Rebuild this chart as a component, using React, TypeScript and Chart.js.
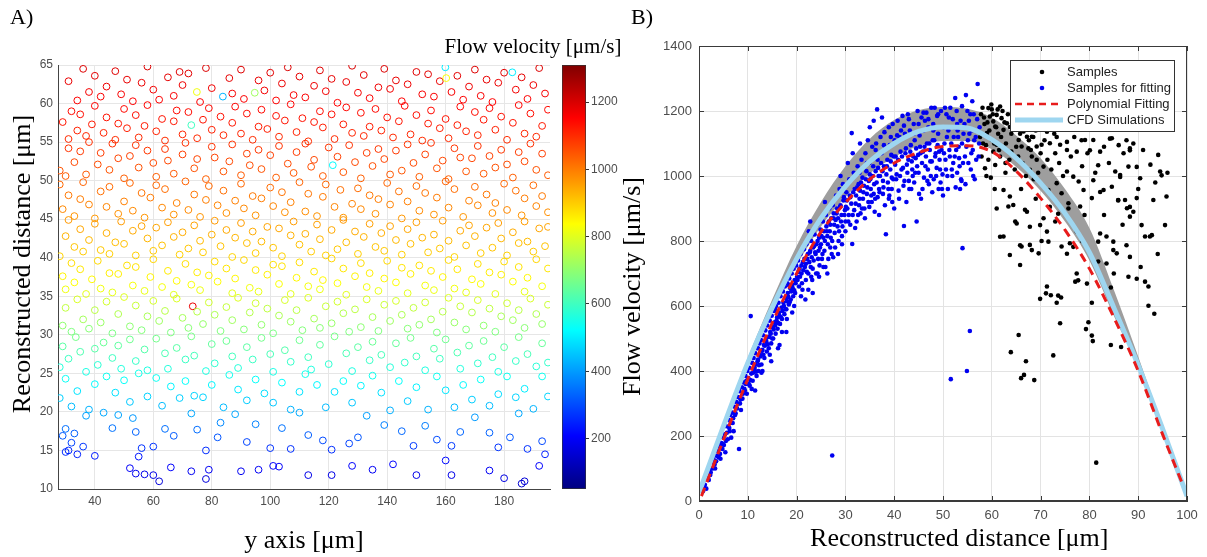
import React, { useEffect, useRef } from 'react';
import { Chart, registerables } from 'chart.js';
Chart.register(...registerables);

const SANS = '"Liberation Sans", Arial, sans-serif';
const SERIF = '"Liberation Serif", "Times New Roman", serif';

// ---------- Panel A: circles [y axis µm, reconstructed distance µm, flow velocity µm/s]
const aXTicks = [40, 60, 80, 100, 120, 140, 160, 180];
const aYTicks = [10, 15, 20, 25, 30, 35, 40, 45, 50, 55, 60, 65];
const cbTicks = [200, 400, 600, 800, 1000, 1200];
const cbMin = 50;
const cbMax = 1310;

const flowPoints: [number, number, number][] = [
[30,14.8,262],[31,15.0,255],[34,14.5,248],[40,14.3,240],[52,12.7,200],[54,12.0,185],[55,14.2,235],[57,11.9,180],[60,11.8,178],[62,11.0,160],[66,12.8,205],[73,12.3,190],[78,11.3,165],[79,12.5,195],[90,12.3,190],[96,12.5,195],[101,13.0,205],[103,12.9,200],[113,11.8,180],[121,11.8,178],[128,13.0,205],[135,12.5,195],[142,13.2,210],[150,11.8,180],[160,13.7,220],[162,11.8,180],[175,12.4,195],[180,11.4,170],[186,10.7,150],[187,11.0,158],[192,13.0,205],[194,14.5,245],
[29,16.9,318],[30,17.8,345],[32,16.0,290],[33,17.2,325],[36,15.5,275],[37,19.5,405],[43,19.9,415],[46,17.9,348],[48,19.6,410],[53,19.2,395],[54,17.4,330],[56,15.3,268],[60,15.5,272],[64,17.8,345],[67,16.9,318],[73,19.8,415],[75,17.7,342],[78,15.0,262],[82,16.7,312],[83,18.6,375],[88,19.7,412],[92,16.1,292],[95,18.4,368],[100,15.3,268],[104,17.9,350],[107,15.2,266],[110,19.9,418],[113,17.0,322],[118,16.3,298],[121,15.1,264],[127,15.9,288],[130,16.7,312],[133,19.5,405],[139,18.3,365],[145,17.5,335],[149,15.6,278],[153,18.2,362],[157,16.4,300],[162,15.6,278],[165,17.4,332],[170,19.3,398],[175,17.3,328],[178,15.4,270],[182,16.7,312],[185,19.8,415],[188,15.2,266],[193,16.2,295],
[28,21.8,465],[30,24.3,535],[32,20.7,440],[34,22.7,490],[38,20.3,428],[40,23.6,518],[44,24.6,540],[47,22.5,485],[50,24.1,530],[52,21.3,455],[55,25.0,548],[58,22.0,468],[61,24.4,538],[63,20.8,440],[66,23.3,510],[69,21.8,465],[71,24.0,528],[74,22.1,470],[77,21.9,468],[80,23.5,515],[84,20.6,438],[86,24.8,545],[89,22.9,495],[92,21.5,460],[95,24.2,530],[98,22.4,482],[101,21.2,452],[104,23.8,522],[107,20.3,428],[110,22.6,488],[112,24.9,546],[116,23.5,515],[119,20.6,438],[122,22.6,488],[125,24.0,528],[128,21.2,452],[131,23.4,512],[135,24.7,542],[138,22.5,485],[141,20.2,425],[144,24.0,528],[147,21.4,458],[150,23.2,508],[154,20.3,428],[157,24.6,540],[160,22.8,492],[163,20.6,438],[166,23.5,515],[169,21.6,462],[172,24.2,532],[175,20.8,440],[178,22.3,478],[181,24.6,540],[184,21.9,468],[187,23.0,500],[190,20.4,430],[193,24.6,540],[195,22.0,470],
[28,25.8,570],[29,28.5,635],[31,26.9,598],[33.5,29.7,668],[35,27.8,620],[37,25.2,555],[40,28.2,630],[41,26.1,575],[43,29.0,652],[46,27.0,600],[48,28.6,640],[49,25.6,565],[52,29.4,660],[54,26.6,590],[57,28.1,628],[58,25.4,560],[61,29.5,664],[64,27.6,615],[65,25.6,565],[68,28.3,632],[71,26.8,595],[73,29.8,670],[74,27.3,608],[78,25.3,558],[80,28.8,645],[81,26.3,580],[85,29.2,655],[87,27.2,605],[89,25.7,568],[92,28.4,635],[94,26.8,595],[97,29.6,665],[100,27.5,612],[101,25.2,555],[105,28.0,625],[107,26.5,588],[110,29.3,658],[113,27.1,602],[114,25.5,562],[117,28.7,642],[120,26.2,578],[122,29.8,670],[126,27.6,615],[128,25.3,558],[130,28.4,635],[134,26.7,592],[135,29.1,654],[138,27.4,610],[141,25.8,570],[143,28.9,648],[146,26.4,585],[148,29.6,665],[150,27.2,605],[153,25.4,560],[156,28.2,630],[158,26.9,598],[160,29.4,660],[164,27.7,618],[165,25.6,565],[168,28.6,640],[171,26.3,582],[173,29.2,656],[176,27.1,602],[178,25.2,555],[180,28.4,635],[184,26.6,590],[185,29.7,668],[188,27.5,612],[191,25.9,572],[193,28.9,648],[195,26.4,585],
[29,31.2,700],[30,33.5,760],[32,30.4,680],[34,34.6,790],[36,32.0,725],[38,30.8,690],[40,33.2,752],[42,31.6,712],[44,34.3,782],[46,30.2,675],[48,32.7,740],[50,34.9,798],[52,31.1,698],[54,33.8,770],[56,30.6,685],[58,32.4,732],[60,34.4,785],[62,31.8,718],[64,33.1,750],[66,30.3,678],[68,34.7,792],[70,32.2,728],[72,30.9,692],[73.5,33.7,1180],[75,33.0,748],[77,31.4,706],[79,34.2,780],[81,32.6,738],[83,30.5,682],[85,33.6,765],[87,31.9,720],[89,34.8,795],[91,30.7,688],[93,32.9,745],[95,34.1,778],[97,31.3,702],[99,33.4,758],[101,30.2,675],[103,32.5,735],[105,34.5,788],[107,31.7,715],[109,33.2,752],[111,30.6,685],[113,34.8,795],[115,32.1,726],[117,30.9,692],[119,33.7,768],[121,31.5,708],[123,34.3,782],[125,32.8,742],[127,30.4,680],[129,33.3,755],[131,31.0,695],[133,34.6,790],[135,32.3,730],[137,30.5,682],[139,33.9,772],[141,31.8,718],[143,34.4,785],[145,32.6,738],[147,30.8,690],[149,33.5,760],[151,31.3,702],[153,34.2,780],[155,32.0,725],[157,30.3,678],[159,33.0,748],[161,34.8,795],[163,31.6,712],[165,33.7,768],[167,30.7,688],[169,32.9,745],[171,34.5,788],[173,31.2,700],[175,33.4,758],[177,30.4,680],[179,32.4,732],[181,34.1,778],[183,31.9,720],[185,33.2,752],[187,30.9,692],[189,34.7,792],[191,32.7,740],[193,31.4,706],[195,33.9,772],
[29,37.6,852],[30,35.9,818],[32,39.3,880],[33,36.8,838],[35,38.5,866],[37,35.3,805],[39,37.2,845],[41,39.6,885],[42,36.0,820],[45,38.0,858],[46,35.5,808],[48,37.9,856],[51,39.0,874],[53,36.4,828],[54,38.8,872],[57,35.7,812],[59,37.5,850],[60,39.8,888],[63,36.2,825],[65,38.3,863],[67,35.2,802],[68,37.0,842],[71,39.2,878],[73,36.5,830],[75,38.1,860],[76,35.8,815],[79,37.7,852],[81,39.5,882],[82,36.9,840],[85,38.6,868],[87,35.4,806],[88,37.3,847],[91,39.7,886],[93,36.1,822],[95,38.4,865],[96,35.6,810],[99,37.8,855],[101,39.1,876],[103,36.6,832],[104,38.9,873],[107,35.3,804],[109,37.4,848],[110,39.4,881],[113,36.3,826],[115,38.2,862],[117,35.9,818],[118,37.1,844],[121,39.9,890],[123,36.7,835],[125,38.6,868],[126,35.2,802],[129,37.6,852],[131,39.3,880],[133,36.2,825],[134,38.0,858],[137,35.7,812],[139,37.3,847],[140,39.6,885],[143,36.8,838],[145,38.7,870],[147,35.4,806],[148,37.9,856],[151,39.0,874],[153,36.4,828],[155,38.3,863],[156,35.8,815],[159,37.5,850],[161,39.7,886],[163,36.0,820],[164,38.5,866],[167,35.5,808],[169,37.2,845],[171,39.2,878],[172,36.6,832],[175,38.1,860],[177,35.3,805],[179,37.8,855],[180,39.5,882],[183,36.9,840],[185,38.8,872],[187,35.6,810],[188,37.4,848],[191,39.8,888],[193,36.3,826],[195,38.6,868],
[28,40.2,893],[30,42.8,932],[31,44.9,963],[33,41.4,910],[35,43.7,946],[36,40.8,902],[38,42.3,925],[40,44.4,956],[42,41.0,905],[44,43.2,938],[45,40.5,898],[47,42.0,920],[49,44.7,960],[50,41.8,917],[53,43.5,943],[54,40.3,895],[56,44.1,952],[58,42.5,928],[60,40.9,904],[61,43.9,948],[63,41.6,914],[65,44.6,959],[67,42.7,931],[69,40.4,896],[70,43.3,940],[72,41.2,908],[74,44.2,953],[76,42.2,923],[77,40.7,901],[80,43.0,935],[81,44.8,962],[83,41.5,912],[85,43.6,944],[87,40.1,892],[88,42.6,929],[90,44.5,958],[92,41.9,918],[94,43.4,941],[95,40.6,899],[97,42.1,922],[99,44.0,950],[101,41.3,910],[103,43.8,947],[104,40.2,893],[107,42.9,934],[108,44.7,960],[110,41.7,915],[112,43.1,937],[114,40.8,902],[116,44.3,955],[117,42.4,926],[119,40.3,895],[121,43.6,944],[123,41.1,906],[125,44.9,963],[126,42.0,920],[129,43.4,941],[130,40.5,898],[132,42.7,931],[134,44.4,956],[136,41.4,910],[138,43.2,938],[139,40.9,904],[141,44.1,952],[143,42.3,925],[145,40.4,896],[147,43.7,946],[148,41.8,917],[150,44.6,959],[152,42.6,929],[154,40.7,901],[156,43.0,935],[158,41.2,908],[159,44.8,962],[161,42.2,923],[163,40.1,892],[165,43.5,943],[167,41.6,914],[168,44.2,953],[170,42.8,932],[172,40.6,899],[174,43.9,948],[176,41.3,910],[178,44.5,958],[179,42.5,928],[181,40.3,895],[183,43.3,940],[185,41.9,918],[187,44.7,960],[188,42.1,922],[190,40.8,902],[192,43.8,947],[194,41.5,912],[195,44.0,950],
[28,49.5,1025],[29,46.3,985],[31,48.1,1006],[33,45.4,970],[35,47.6,998],[36,49.8,1030],[38,46.9,992],[40,45.1,966],[42,48.6,1015],[44,46.6,988],[45,49.2,1022],[48,45.7,974],[50,47.3,996],[52,49.7,1028],[53,46.1,982],[56,48.4,1010],[57,45.2,968],[59,47.8,1002],[61,49.4,1024],[63,46.5,986],[64,48.9,1018],[67,45.6,972],[68,47.1,994],[71,49.9,1032],[72,46.2,983],[74,48.2,1008],[76,45.3,969],[78,47.5,997],[79,49.3,1023],[82,46.8,990],[84,48.7,1016],[85,45.8,975],[88,47.4,996],[90,49.6,1027],[91,46.4,985],[94,48.0,1004],[95,45.5,971],[97,47.7,1000],[100,49.1,1020],[101,46.7,989],[104,48.5,1012],[105,45.9,976],[107,47.2,995],[110,49.8,1030],[112,46.0,980],[113,48.3,1009],[116,45.4,970],[118,47.9,1003],[119,49.5,1025],[122,46.6,988],[124,48.8,1017],[125,45.2,968],[128,47.0,993],[130,49.0,1019],[131,46.3,984],[134,48.1,1006],[136,45.7,974],[137,47.6,998],[140,49.7,1028],[141,46.9,992],[144,48.6,1015],[145,45.1,966],[147,47.3,996],[150,49.3,1023],[151,46.1,982],[153,48.4,1010],[156,45.6,972],[157,47.8,1002],[160,49.9,1032],[161,46.5,986],[163,48.9,1018],[166,45.3,969],[168,47.4,996],[170,49.2,1022],[171,46.8,990],[174,48.2,1008],[176,45.8,975],[177,47.1,994],[180,49.6,1027],[181,46.2,983],[184,48.7,1016],[186,45.5,971],[187,47.7,1000],[190,49.4,1024],[191,46.7,989],[193,48.0,1004],[195,45.9,976],
[28,51.3,1048],[30,50.6,1040],[31,54.2,1088],[33,52.4,1063],[35,53.8,1082],[37,50.8,1042],[38,55.0,1095],[41,52.1,1060],[42,53.6,1078],[45,51.4,1050],[46,54.8,1093],[48,52.9,1068],[50,50.3,1036],[52,53.2,1074],[54,54.6,1090],[55,51.7,1054],[58,53.9,1083],[60,52.3,1062],[61,50.5,1038],[64,54.1,1086],[65,52.6,1065],[67,50.9,1044],[70,53.4,1076],[71,54.9,1094],[74,51.6,1052],[75,52.8,1068],[78,50.2,1035],[80,54.4,1089],[81,53.0,1071],[84,51.2,1047],[86,52.5,1064],[87,54.7,1091],[90,50.7,1041],[92,53.5,1077],[93,52.0,1058],[96,54.0,1085],[97,51.5,1051],[100,53.3,1075],[102,50.4,1037],[103,54.5,1090],[106,52.2,1061],[108,51.0,1045],[109,53.7,1080],[112,54.8,1092],[114,51.8,1055],[115,52.7,1066],[118,50.6,1040],[120,54.3,1087],[121.4,52.0,520],[123,53.1,1073],[125,51.1,1046],[127,54.6,1090],[129,52.4,1063],[131,50.3,1036],[133,53.6,1078],[135,51.9,1056],[137,54.1,1086],[139,52.8,1068],[141,50.8,1042],[143,53.9,1083],[145,51.3,1048],[147,54.7,1091],[149,52.3,1062],[151,50.5,1038],[153,53.4,1076],[155,54.9,1094],[157,51.6,1052],[159,52.6,1065],[161,50.2,1035],[163,54.2,1088],[165,53.0,1071],[167,51.2,1047],[169,52.9,1068],[171,54.5,1090],[173,50.9,1044],[175,53.2,1074],[177,51.7,1054],[179,54.0,1085],[181,52.1,1060],[183,50.4,1037],[185,53.7,1080],[187,52.5,1064],[189,54.8,1093],[191,51.4,1050],[193,53.5,1077],[195,50.7,1041],
[29,57.6,1126],[31,55.4,1100],[32,59.0,1140],[34,56.5,1112],[35,58.6,1136],[37,55.8,1104],[39,57.3,1122],[40,59.7,1147],[43,56.2,1108],[44,58.2,1132],[47,55.3,1098],[48,57.4,1124],[50,59.3,1143],[51,56.8,1116],[54,58.5,1135],[55,55.6,1102],[57,57.1,1120],[58,59.8,1148],[61,56.4,1110],[63,58.0,1130],[64,55.2,1097],[67,57.7,1127],[68,59.1,1141],[70,56.0,1106],[72,58.9,1139],[73,57.2,600],[75,55.5,1101],[77,57.9,1129],[79,59.4,1144],[80,56.6,1114],[83,58.3,1133],[84,55.9,1105],[87,57.5,1125],[88,59.6,1146],[90,56.1,1107],[92,58.7,1137],[94,55.3,1098],[96,57.0,1119],[97,59.2,1142],[99,56.7,1115],[102,58.4,1134],[103,55.7,1103],[105,57.8,1128],[107,59.9,1149],[109,56.3,1109],[111,58.1,1131],[113,55.1,1096],[115,57.6,1126],[117,59.0,1140],[118,56.9,1117],[121,58.6,1136],[122,55.4,1100],[125,57.3,1122],[126,59.5,1145],[128,56.2,1108],[131,58.8,1138],[132,55.8,1104],[134,57.0,1119],[136,59.3,1143],[138,56.5,1112],[140,58.2,1132],[142,55.6,1102],[144,57.7,1127],[146,59.7,1147],[148,56.0,1106],[150,58.5,1135],[152,55.2,1097],[154,57.4,1124],[155,59.1,1141],[158,56.8,1116],[160,58.0,1130],[161,55.5,1101],[164,57.2,1121],[165,59.6,1146],[167,56.4,1110],[170,58.9,1139],[171,55.9,1105],[173,57.9,1129],[175,59.4,1144],[177,56.6,1114],[179,58.3,1133],[181,55.3,1098],[183,57.5,1125],[185,59.8,1148],[187,56.1,1107],[189,58.7,1137],[191,55.7,1103],[193,57.1,1120],[195,59.2,1142],
[31,62.9,1180],[34,60.4,1154],[36,64.5,1195],[38,61.5,1165],[40,63.6,1186],[42,60.9,1159],[44,62.2,1172],[47,64.2,1192],[49,61.2,1162],[51,63.1,1181],[53,60.3,1153],[56,62.7,1177],[58,64.8,1198],[60,61.8,1168],[62,60.5,1155],[65,63.4,1184],[67,61.0,1160],[69,64.1,1191],[70,62.4,1174],[72,63.9,1189],[74.9,61.5,820],[76,60.2,1152],[78,64.6,1196],[80,62.0,1170],[83.8,60.9,430],[86,63.3,1183],[87,61.3,1163],[90,64.4,1194],[91,60.6,1156],[94.7,61.4,720],[96,63.0,1180],[98,61.7,1167],[100,64.0,1190],[102,60.4,1154],[104,62.6,1176],[106,64.7,1197],[108,61.1,1161],[110,63.5,1185],[112,60.8,1158],[115,62.3,1173],[117,64.3,1193],[119,61.6,1166],[121,63.2,1182],[123,60.1,1151],[126,62.8,1178],[128,64.9,1199],[130,61.4,1164],[132,63.7,1187],[134,60.7,1157],[137,62.1,1171],[139,64.5,1195],[141,61.9,1169],[143,63.0,1180],[145,60.3,1153],[147,62.5,1175],[150,64.1,1191],[152,61.2,1162],[154,63.8,1188],[156,60.9,1159],[158,62.9,1179],[159.9,64.7,500],[160.2,63.3,830],[162,61.5,1165],[164,63.6,1186],[166,60.5,1155],[168,62.2,1172],[170,64.4,1194],[172,61.0,1160],[174,63.1,1181],[176,60.2,1152],[178,62.7,1177],[180,64.0,1190],[182.8,64.05,500],[184,61.8,1168],[186,63.4,1184],[188,60.6,1156],[190,62.4,1174],[192,64.6,1196],[194,61.3,1163]
];

// ---------- Panel B
const bXTicks = [0, 10, 20, 30, 40, 50, 60, 70, 80, 90, 100];
const bYTicks = [0, 200, 400, 600, 800, 1000, 1200, 1400];
const bLegendLabels = ['Samples', 'Samples for fitting', 'Polynomial Fitting', 'CFD Simulations'];

const curveX = [0, 5, 10, 15, 20, 25, 30, 35, 40, 45, 50, 55, 60, 65, 70, 75, 80, 85, 90, 95, 100];
const cfdV = [25, 230, 425, 595, 745, 870, 968, 1045, 1100, 1137, 1151, 1148, 1112, 1055, 978, 885, 765, 595, 418, 222, 15];
const bandUpper = [28, 238, 440, 620, 785, 920, 1030, 1115, 1172, 1202, 1212, 1207, 1180, 1125, 1055, 960, 840, 650, 445, 230, 18];
const bandLower = [22, 222, 412, 580, 725, 845, 935, 1008, 1058, 1092, 1108, 1108, 1082, 1028, 955, 860, 740, 570, 410, 212, 12];

const fitX = [0.5, 5, 10, 15, 20, 25, 30, 35, 40, 45, 50, 55, 60, 65, 70, 75, 80, 85, 90, 95, 99];
const fitV = [15, 188, 375, 548, 700, 828, 918, 990, 1040, 1072, 1091, 1093, 1075, 1015, 932, 834, 715, 565, 400, 205, 55];

const fittingSamples: [number, number][] = [
[0.8,30],[1.2,50],[1.5,38],[1.7,72],[2.0,65],[2.1,95],[2.4,88],[2.6,118],[2.8,100],[3.0,128],[3.2,112],[3.4,140],[3.5,122],[3.7,155],[3.9,138],[4.1,168],[4.3,145],[4.4,130],[4.6,178],[4.8,160],[5.0,195],[5.1,172],[5.3,205],[5.4,150],[5.6,230],[5.7,210],[5.9,190],[6.0,250],[6.2,225],[6.4,265],[6.5,240],[6.6,195],[6.8,272],[7.0,255],[7.1,215],[7.3,290],[7.4,265],[7.6,305],[7.8,285],[8.0,320],[8.1,300],[8.2,160],[8.3,338],[8.5,312],[8.6,280],[8.8,350],[9.0,330],[9.1,365],[9.3,345],[9.5,385],[9.6,360],[9.8,330],[9.9,400],
[1.0,45],[2.3,80],[3.3,100],[4.0,135],[4.9,175],[5.5,185],[6.3,215],[6.9,240],[7.5,270],[8.4,300],[8.9,315],[9.4,340],[9.7,370],
[10.1,378],[10.3,410],[10.4,355],[10.6,569],[10.7,392],[10.9,425],[11.0,370],[11.2,440],[11.3,405],[11.5,455],[11.6,420],[11.8,385],[11.9,470],[12.1,435],[12.2,400],[12.4,485],[12.5,450],[12.7,495],[12.8,420],[13.0,465],[13.1,510],[13.3,480],[13.4,440],[13.6,525],[13.7,495],[13.9,460],[14.0,540],[14.2,505],[14.3,470],[14.5,555],[14.6,520],[14.8,485],[14.9,570],[15.1,535],[15.2,500],[15.4,585],[15.5,550],[15.7,515],[15.8,600],[16.0,565],[16.1,530],[16.3,610],[16.4,580],[16.6,545],[16.7,630],[16.9,595],[17.0,560],[17.2,645],[17.3,610],[17.5,575],[17.6,660],[17.8,625],[17.9,590],[18.1,670],[18.2,640],[18.4,605],[18.5,685],[18.7,655],[18.8,620],[19.0,700],[19.1,665],[19.3,630],[19.4,715],[19.6,680],[19.7,640],[19.9,725],[19.5,600],[16.5,480],[14.5,450],[12.8,395],[18.0,560],[17.0,520],
[10.2,360],[10.5,372],[10.8,345],[11.1,395],[11.4,410],[11.7,398],[12.0,430],[12.3,418],[12.6,445],[12.9,462],[13.2,450],[13.5,478],[13.8,490],[14.1,482],[14.4,505],[14.7,515],[15.0,500],[15.3,528],[15.6,540],[15.9,555],[16.2,548],[16.5,570],[16.8,565],[17.1,585],[17.4,600],[17.7,590],[18.0,615],[18.3,628],[18.6,612],[18.9,645],[19.2,655],[19.5,648],[19.8,670],[11.5,340],[13.0,400],[14.8,430],[16.2,470],[17.9,520],[19.1,580],[12.1,470],[15.6,590],[18.4,665],
[20.1,690],[20.3,740],[20.5,660],[20.6,715],[20.8,760],[21.0,700],[21.2,650],[21.3,735],[21.5,775],[21.7,720],[21.9,680],[22.0,790],[22.2,745],[22.4,700],[22.5,830],[22.7,765],[22.9,720],[23.0,800],[23.2,680],[23.4,780],[23.5,740],[23.7,820],[23.9,760],[24.0,700],[24.2,850],[24.3,800],[24.5,770],[24.7,725],[24.9,835],[25.0,790],[25.2,745],[25.4,860],[25.5,810],[25.7,770],[25.9,720],[26.0,880],[26.2,830],[26.4,790],[26.5,745],[26.7,900],[26.9,850],[27.0,810],[27.2,760],[27.3,140],[27.4,910],[27.6,870],[27.8,825],[27.9,780],[28.1,940],[28.2,885],[28.4,845],[28.6,800],[28.8,960],[28.9,905],[29.1,860],[29.3,815],[29.5,975],[29.6,925],[29.8,880],[30.0,830],[21.8,620],[24.6,690],[26.3,700],[28.5,760],[22.8,860],[25.8,920],[23.3,640],[29.0,1000],
[20.2,680],[20.4,705],[20.7,690],[21.0,725],[21.1,670],[21.4,710],[21.6,745],[21.9,730],[22.1,705],[22.3,760],[22.6,735],[22.8,770],[23.1,750],[23.3,715],[23.6,785],[23.8,765],[24.1,790],[24.4,745],[24.6,810],[24.8,780],[25.1,815],[25.3,760],[25.6,830],[25.8,800],[26.1,845],[26.3,815],[26.6,860],[26.8,830],[27.1,870],[27.3,800],[27.6,885],[27.7,850],[28.0,865],[28.3,900],[28.5,870],[28.7,830],[29.0,910],[29.2,880],[29.4,845],[29.7,935],[29.9,895],[20.9,630],[22.4,650],[24.3,700],[25.5,720],[27.5,750],[29.3,790],[23.0,690],[26.9,780],
[30.2,950],[30.4,900],[30.6,860],[30.8,990],[31.0,935],[31.3,1132],[31.4,791],[31.5,880],[31.7,1010],[31.9,960],[32.1,915],[32.3,860],[32.5,1030],[32.7,975],[32.9,930],[33.1,885],[33.3,1050],[33.5,995],[33.7,950],[33.9,900],[34.1,1070],[34.3,1015],[34.5,965],[34.7,920],[34.9,1040],[35.1,990],[35.3,940],[35.5,1090],[35.7,1030],[35.9,975],[36.1,930],[36.3,1100],[36.5,1205],[36.6,1050],[36.8,1000],[37.0,950],[37.2,1120],[37.4,1070],[37.6,1015],[37.8,965],[38.0,1135],[38.2,1085],[38.3,821],[38.5,1030],[38.7,980],[38.9,1150],[39.1,1095],[39.3,1045],[39.5,995],[39.7,1160],[39.9,1060],[32.0,840],[34.0,870],[36.0,890],[38.1,910],[33.0,1100],[35.0,1150],[37.5,1180],[39.0,940],[30.5,1040],[31.5,1070],[34.6,1110],[36.9,880],[39.6,920],[35.8,1170],
[30.1,905],[30.3,925],[30.7,880],[30.9,940],[31.2,915],[31.6,950],[31.8,895],[32.2,940],[32.4,965],[32.8,910],[33.0,955],[33.2,980],[33.6,930],[33.8,970],[34.2,990],[34.4,945],[34.8,985],[35.0,1005],[35.2,960],[35.6,1000],[35.8,945],[36.2,1015],[36.4,980],[36.7,1025],[36.9,960],[37.1,1000],[37.3,1040],[37.7,985],[37.9,1030],[38.4,1005],[38.6,1050],[38.8,960],[39.2,1020],[39.4,1065],[39.8,990],[30.0,860],[31.0,850],[32.6,880],[33.4,900],[34.9,905],[35.4,920],[36.6,935],[37.7,945],[38.9,930],[39.5,960],[32.9,1010],[34.4,1040],[36.2,1080],[37.9,1095],[39.3,1120],
[40.1,1110],[40.3,1060],[40.5,1005],[40.7,1170],[40.9,955],[41.1,1120],[41.3,1075],[41.5,1020],[41.7,1185],[41.9,970],[42.0,846],[42.2,1130],[42.4,1085],[42.6,1035],[42.8,1190],[43.0,985],[43.2,1140],[43.4,1095],[43.6,1045],[43.8,1000],[44.0,1160],[44.2,1110],[44.4,1055],[44.6,860],[44.8,1200],[45.0,1010],[45.2,1125],[45.4,1070],[45.6,1180],[45.8,960],[46.0,1140],[46.2,1090],[46.4,1030],[46.6,1195],[46.8,985],[47.0,1150],[47.2,1100],[47.4,1045],[47.6,1210],[47.8,950],[48.0,1160],[48.2,1110],[48.4,1060],[48.6,1000],[48.8,1185],[49.0,1130],[49.2,1075],[49.4,1020],[49.6,1200],[49.8,960],[40.0,900],[41.0,930],[42.5,920],[43.5,960],[45.5,930],[47.5,1000],[49.5,980],[44.3,1010],[46.3,1170],[48.3,1210],
[40.2,1035],[40.4,990],[40.8,1050],[41.2,1000],[41.6,1060],[41.8,1025],[42.1,985],[42.3,1070],[42.7,1010],[42.9,1050],[43.1,960],[43.3,1075],[43.7,1020],[43.9,1060],[44.1,980],[44.5,1085],[44.7,1030],[44.9,1065],[45.1,945],[45.3,1090],[45.7,1040],[45.9,1075],[46.1,995],[46.5,1060],[46.7,1100],[46.9,1020],[47.1,975],[47.3,1080],[47.7,1045],[47.9,1110],[48.1,990],[48.5,1070],[48.7,1025],[48.9,1095],[49.1,960],[49.3,1050],[49.7,1080],[49.9,1005],[44.0,1130],[45.0,1160],[46.0,1195],[47.0,1175],[48.0,1140],[49.0,1190],[43.0,1175],[42.0,1155],[41.4,1140],[40.6,1125],
[50.1,1150],[50.3,1100],[50.5,1050],[50.7,1190],[50.9,1000],[51.1,1140],[51.3,1080],[51.6,375],[51.8,1020],[52.0,1175],[52.2,1120],[52.4,1060],[52.6,965],[52.8,1200],[53.0,1140],[53.2,1090],[53.4,1030],[53.6,1170],[53.8,985],[54.0,778],[54.2,1130],[54.5,1060],[54.7,1249],[54.9,400],[55.1,1110],[55.3,1170],[55.5,523],[55.7,1020],[55.9,1140],[56.1,1080],[56.3,1190],[56.5,990],[56.7,1120],[57.1,1283],[57.3,1060],[57.5,1150],[50.0,940],[51.5,1210],[53.5,960],[55.0,1200],[56.0,1230],[52.5,1240],
[50.2,1070],[50.6,1020],[50.8,1120],[51.0,960],[51.4,1060],[51.7,1100],[51.9,1000],[52.1,1040],[52.3,1150],[52.7,1080],[52.9,1010],[53.1,1120],[53.3,1055],[53.7,990],[53.9,1100],[54.1,1040],[54.4,1160],[54.6,975],[54.8,1090],[55.2,1040],[55.4,1130],[55.8,1070],[56.2,1000],[56.4,1110],[56.8,1050],[57.0,1175],[57.4,1100],[50.4,1210],[51.2,1180],[52.9,1160],[53.9,1215],[55.6,1190]
];

const otherSamples: [number, number][] = [
[59.3,1209],[60.0,1205],[61.7,1214],[59.6,1183],[60.3,1168],[61.0,1188],[62.0,1178],[63.1,1162],[60.7,1152],[62.4,1142],[59.0,1132],[60.0,1111],[61.0,1096],[60.3,1075],[59.3,1050],[58.6,1024],[61.7,1060],[60.7,1034],[65.1,1157],[66.5,1137],[67.2,1121],[68.2,1121],[65.5,1111],[66.1,1091],[67.5,1085],[69.2,1091],[70.2,1096],[68.2,1060],[69.2,1050],[70.6,1029],[67.8,1019],[71.9,1101],[74.0,1096],[73.0,1070],[75.4,1080],[77.4,1075],[79.1,1111],[80.8,1111],[82.2,1075],[84.6,1116],[87.0,1070],[88.3,1085],[85.3,1014],[88.0,1029],[90.4,993],[94.1,1065],[94.5,1014],[86.3,1003],[84.6,967],[75.4,1014],[76.7,998],[77.8,983],[73.3,978],[71.6,957],[74.3,947],[75.7,916],[78.8,957],[78.1,906],[80.5,932],[82.9,957],[85.9,926],[87.3,926],[87.7,901],[88.3,875],[89.7,932],[93.1,926],[95.8,937],[90.7,849],[91.4,814],[92.4,814],[95.5,849],[62.4,957],[63.7,937],[64.4,911],[66.8,896],[63.4,906],[67.8,844],[70.6,870],[71.3,829],[62.4,814],[66.1,783],[67.8,788],[69.6,762],[71.6,798],[74.3,783],[76.0,793],[77.4,829],[81.8,798],[83.5,814],[84.9,798],[85.6,762],[65.8,726],[63.7,757],[81.8,737],[83.5,731],[71.3,660],[77.1,675],[91.4,675],[92.1,660],[88.0,690],
[94.8,1002],[92.8,818],[89.7,684],[88.3,751],[87.6,787],[84.9,772],[82.2,823],[77.4,700],[77.7,679],[79.5,669],[75.4,761],[76.7,782],[68.2,772],[65.8,787],[61.7,813],[65.1,854],[69.9,849],[67.2,890],[73.6,884],[75.7,900],[71.9,905],[85.9,925],[88.3,905],[89.0,890],[82.2,951],[80.8,987],[86.3,997],[89.7,1028],[81.8,1033],[80.1,1079],[88.3,1079],[87.6,1110],[84.2,1115],[78.4,1110],[71.3,1136],[73.3,1120],[75.4,1105],[68.5,1120],[63.7,1151],[58.2,1100],[59.8,995],[62.8,1010],[64.0,1075],[57.8,1190],[58.5,1160],[61.3,1130],
[57.6,1120],[57.9,1060],[58.1,1210],[58.4,1180],[58.8,1095],[59.1,1165],[59.5,1140],[59.9,1220],[60.2,1190],[60.5,1100],[60.9,1150],[61.2,1205],[61.5,1080],[61.9,1120],[62.2,1200],[62.6,1165],[62.9,1100],[63.3,1190],[63.6,1050],[64.0,1130],[64.3,1170],[64.7,1020],[65.0,1090],[65.4,1060],[65.8,1130],[66.3,1040],[66.8,1160],[67.0,1000],[67.6,1110],[68.0,1080],[68.6,990],[69.0,1140],[69.5,1010],[70.0,1070],[70.8,1110],[71.4,1050],[72.2,1020],[72.8,1130],[73.8,1040],[74.6,1000],[76.2,1060],[76.9,1120],[78.5,1030],[79.6,1070],[81.2,1010],[83.0,1090],[84.0,1040],[86.0,1095],[89.0,1100],[91.0,1080],[92.5,1035],[93.5,980],[96.0,1010],[90.0,960],[86.8,850],[83.0,880],[79.0,880],[73.0,860],[69.0,930],[64.8,860],[61.0,900],[62.8,1040],[58.9,1000],[60.6,960],[66.0,960],[70.2,800],[78.5,800],[85.0,700],[90.5,720],[94.0,760],
[71.1,639],[72.1,633],[69.9,622],[73.6,632],[74.2,626],[73.3,610],[80.5,610],[84.4,657],[92.1,601],[93.3,576],[74.0,547],[79.8,550],[79.3,529],[80.5,509],[80.7,492],[84.4,480],[86.5,474],[65.5,511],[63.9,458],[72.6,448],[67.0,430],[66.6,388],[66.0,378],[68.7,372],[81.4,118]
];

// ---------- helpers
function jet(t: number): string {
  const c = (x: number) => Math.max(0, Math.min(1, x));
  const r = c(1.5 - Math.abs(4 * t - 3));
  const g = c(1.5 - Math.abs(4 * t - 2));
  const b = c(1.5 - Math.abs(4 * t - 1));
  return `rgb(${Math.round(r * 255)},${Math.round(g * 255)},${Math.round(b * 255)})`;
}
const vColor = (v: number) => jet((v - cbMin) / (cbMax - cbMin));
const fixTicks = (values: number[]) => (scale: any) => {
  scale.ticks = values.map((value) => ({ value }));
};
const plain = (v: any) => String(v);

const RED = 'rgb(232,28,28)';
const CFD = 'rgb(158,214,240)';
const BLUE = '#0000f0';

const bDecor = {
  id: 'bDecor',
  afterDatasetsDraw(chart: any) {
    const { ctx, chartArea: a, scales } = chart;
    ctx.save();
    ctx.strokeStyle = '#3a3a3a';
    ctx.lineWidth = 1;
    ctx.strokeRect(Math.round(a.left) + 0.5, Math.round(a.top) + 0.5, Math.round(a.right - a.left) - 1, Math.round(a.bottom - a.top) - 1);
    const L = 5;
    ctx.beginPath();
    for (const v of bXTicks) {
      const px = Math.round(scales.x.getPixelForValue(v)) + 0.5;
      ctx.moveTo(px, a.bottom); ctx.lineTo(px, a.bottom - L);
      ctx.moveTo(px, a.top); ctx.lineTo(px, a.top + L);
    }
    for (const v of bYTicks) {
      const py = Math.round(scales.y.getPixelForValue(v)) + 0.5;
      ctx.moveTo(a.left, py); ctx.lineTo(a.left + L, py);
      ctx.moveTo(a.right, py); ctx.lineTo(a.right - L, py);
    }
    ctx.stroke();
    ctx.restore();
  },
  afterDraw(chart: any) {
    const { ctx } = chart;
    const bx = 410, by = 60, bw = 164, bh = 71;
    const rows = [72, 88, 104, 120];
    ctx.save();
    ctx.fillStyle = '#fff';
    ctx.fillRect(bx, by, bw, bh);
    ctx.strokeStyle = '#333';
    ctx.lineWidth = 1;
    ctx.strokeRect(bx + 0.5, by + 0.5, bw, bh);
    ctx.fillStyle = '#000';
    ctx.beginPath(); ctx.arc(442, rows[0], 2.3, 0, Math.PI * 2); ctx.fill();
    ctx.fillStyle = BLUE;
    ctx.beginPath(); ctx.arc(442, rows[1], 2.3, 0, Math.PI * 2); ctx.fill();
    ctx.strokeStyle = RED; ctx.lineWidth = 2.5; ctx.setLineDash([7, 5]);
    ctx.beginPath(); ctx.moveTo(415, rows[2]); ctx.lineTo(463, rows[2]); ctx.stroke();
    ctx.setLineDash([]);
    ctx.strokeStyle = CFD; ctx.lineWidth = 5;
    ctx.beginPath(); ctx.moveTo(415, rows[3]); ctx.lineTo(463, rows[3]); ctx.stroke();
    ctx.fillStyle = '#222';
    ctx.font = `13px ${SANS}`;
    ctx.textBaseline = 'middle';
    ctx.textAlign = 'left';
    bLegendLabels.forEach((t, i) => ctx.fillText(t, 467, rows[i]));
    ctx.restore();
  },
};

export default function App() {
  const aRef = useRef<HTMLCanvasElement>(null);
  const cRef = useRef<HTMLCanvasElement>(null);
  const bRef = useRef<HTMLCanvasElement>(null);

  useEffect(() => {
    const charts: Chart[] = [];
    const tickFontA = { family: SANS, size: 12 };
    const titleFont = { family: SERIF, size: 26 };

    charts.push(new Chart(aRef.current as HTMLCanvasElement, {
      type: 'scatter',
      data: {
        datasets: [{
          data: flowPoints.map((p) => ({ x: p[0], y: p[1] })),
          pointRadius: 3.4,
          pointHoverRadius: 3.4,
          pointBorderWidth: 1,
          pointBackgroundColor: 'rgba(0,0,0,0)',
          pointBorderColor: flowPoints.map((p) => vColor(p[2])),
        }],
      },
      options: {
        animation: false, responsive: false, devicePixelRatio: 1, events: [],
        layout: { padding: { top: 65, right: 6, left: 0, bottom: 0 } },
        plugins: { legend: { display: false }, tooltip: { enabled: false } },
        scales: {
          x: {
            type: 'linear', min: 27.4, max: 195.7,
            afterBuildTicks: fixTicks(aXTicks),
            afterFit: (s: any) => { s.height = 68; },
            grid: { color: '#e6e6e6', drawTicks: false },
            border: { color: '#444' },
            ticks: { font: tickFontA, color: '#4d4d4d', padding: 5, autoSkip: false, maxRotation: 0, callback: plain },
            title: { display: true, text: 'y axis [μm]', font: titleFont, color: '#000', padding: { top: 0, bottom: 0 } },
          },
          y: {
            type: 'linear', min: 10, max: 65,
            afterBuildTicks: fixTicks(aYTicks),
            afterFit: (s: any) => { s.width = 58; },
            grid: { color: '#e6e6e6', drawTicks: false },
            border: { color: '#444' },
            ticks: { font: tickFontA, color: '#4d4d4d', padding: 5, autoSkip: false, callback: plain },
            title: { display: true, text: '    Reconstructed distance [μm]', font: titleFont, color: '#000', padding: { top: 7.4, bottom: 0 } },
          },
        },
      },
    } as any));

    charts.push(new Chart(cRef.current as HTMLCanvasElement, {
      type: 'bar',
      data: {
        labels: ['colour'],
        datasets: [{
          data: [[cbMin, cbMax]],
          backgroundColor: (c: any) => {
            const ca = c.chart.chartArea;
            if (!ca) return '#000';
            const g = c.chart.ctx.createLinearGradient(0, ca.bottom, 0, ca.top);
            for (let i = 0; i <= 64; i++) g.addColorStop(i / 64, jet(i / 64));
            return g;
          },
          borderColor: '#333',
          borderWidth: 1,
          borderSkipped: false,
          barPercentage: 1,
          categoryPercentage: 1,
        }],
      },
      options: {
        animation: false, responsive: false, devicePixelRatio: 1, events: [],
        layout: { padding: { top: 65, right: 0, left: 6, bottom: 68 } },
        plugins: { legend: { display: false }, tooltip: { enabled: false } },
        scales: {
          x: { display: false },
          y: {
            position: 'right', min: cbMin, max: cbMax,
            afterBuildTicks: fixTicks(cbTicks),
            afterFit: (s: any) => { s.width = 40; },
            grid: { drawOnChartArea: false, drawTicks: true, tickLength: 3, color: '#333' },
            border: { display: false },
            ticks: { font: tickFontA, color: '#4d4d4d', padding: 2, autoSkip: false, callback: plain },
          },
        },
      },
    } as any));

    const tickFontB = { family: SANS, size: 13 };
    charts.push(new Chart(bRef.current as HTMLCanvasElement, {
      type: 'scatter',
      data: {
        datasets: [
          {
            label: 'Polynomial Fitting', type: 'line',
            data: fitX.map((x, i) => ({ x, y: fitV[i] })),
            borderColor: RED, borderWidth: 3, borderDash: [9, 6],
            pointRadius: 0, fill: false, cubicInterpolationMode: 'monotone', order: 0,
          },
          {
            label: 'CFD Simulations', type: 'line',
            data: curveX.map((x, i) => ({ x, y: cfdV[i] })),
            borderColor: CFD, borderWidth: 5,
            pointRadius: 0, fill: false, cubicInterpolationMode: 'monotone', order: 1,
          },
          {
            label: 'Samples for fitting',
            data: fittingSamples.map((p) => ({ x: p[0], y: p[1] })),
            pointRadius: 2.3, pointBorderWidth: 0, pointBackgroundColor: BLUE, order: 2,
          },
          {
            label: 'Samples',
            data: otherSamples.map((p) => ({ x: p[0], y: p[1] })),
            pointRadius: 2.3, pointBorderWidth: 0, pointBackgroundColor: '#000', order: 3,
          },
          {
            label: 'band lower', type: 'line',
            data: curveX.map((x, i) => ({ x, y: bandLower[i] })),
            borderColor: 'rgba(0,0,0,0)', borderWidth: 0,
            pointRadius: 0, fill: false, cubicInterpolationMode: 'monotone', order: 5,
          },
          {
            label: 'band upper', type: 'line',
            data: curveX.map((x, i) => ({ x, y: bandUpper[i] })),
            borderColor: 'rgba(0,0,0,0)', borderWidth: 0, backgroundColor: '#9e9e9e',
            pointRadius: 0, fill: '-1', cubicInterpolationMode: 'monotone', order: 4,
          },
        ],
      },
      options: {
        animation: false, responsive: false, devicePixelRatio: 1, events: [],
        layout: { padding: { top: 46, right: 20, left: 0, bottom: 0 } },
        plugins: { legend: { display: false }, tooltip: { enabled: false } },
        scales: {
          x: {
            type: 'linear', min: 0, max: 100,
            afterBuildTicks: fixTicks(bXTicks),
            afterFit: (s: any) => { s.height = 56; },
            grid: { color: '#e3e3e3', drawTicks: false },
            border: { color: '#3a3a3a' },
            ticks: { font: tickFontB, color: '#4d4d4d', padding: 7, autoSkip: false, maxRotation: 0, callback: plain },
            title: { display: true, text: '     Reconstructed distance [μm]', font: titleFont, color: '#000', padding: { top: 0, bottom: 2.4 } },
          },
          y: {
            type: 'linear', min: 0, max: 1400,
            afterBuildTicks: fixTicks(bYTicks),
            afterFit: (s: any) => { s.width = 99; },
            grid: { color: '#e3e3e3', drawTicks: false },
            border: { color: '#3a3a3a' },
            ticks: { font: tickFontB, color: '#4d4d4d', padding: 7, autoSkip: false, callback: plain },
            title: { display: true, text: 'Flow velocity [μm/s]    ', font: titleFont, color: '#000', padding: { top: 17.4, bottom: 0 } },
          },
        },
      },
      plugins: [bDecor],
    } as any));

    return () => charts.forEach((c) => c.destroy());
  }, []);

  const abs = { position: 'absolute' as const, top: 0 };
  return (
    <div style={{ position: 'absolute', left: 0, top: 0, width: 1207, height: 557, background: '#fff', overflow: 'hidden' }}>
      <canvas ref={aRef} width={556} height={557} style={{ ...abs, left: 0, width: 556, height: 557 }} />
      <canvas ref={cRef} width={70} height={557} style={{ ...abs, left: 556, width: 70, height: 557 }} />
      <canvas ref={bRef} width={607} height={557} style={{ ...abs, left: 600, width: 607, height: 557 }} />
      <div style={{ position: 'absolute', left: 10, top: 5.6, fontFamily: SERIF, fontSize: 22, lineHeight: '22px', color: '#000' }}>A)</div>
      <div style={{ position: 'absolute', left: 631, top: 5.6, fontFamily: SERIF, fontSize: 22, lineHeight: '22px', color: '#000' }}>B)</div>
      <div style={{ position: 'absolute', left: 533, top: 36.4, transform: 'translateX(-50%)', fontFamily: SERIF, fontSize: 21, lineHeight: '21px', whiteSpace: 'nowrap', color: '#000' }}>Flow velocity [μm/s]</div>
    </div>
  );
}
